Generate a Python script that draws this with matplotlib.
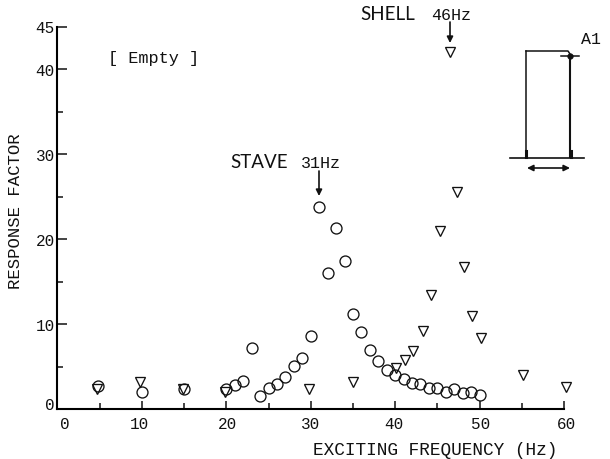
import matplotlib
matplotlib.use("Agg")
import matplotlib.pyplot as plt
from matplotlib.transforms import Affine2D, ScaledTranslation
from matplotlib.lines import Line2D

circle_x = [4.85, 10, 15, 20, 21, 22, 23, 24, 25, 26, 27, 28, 29, 30, 31, 32, 33, 34, 35, 36, 37,
            38, 39, 40, 41, 42, 43, 44, 45, 46, 47, 48, 49, 50]
circle_y = [2.7, 2.0, 2.35, 2.35, 2.8, 3.3, 7.15, 1.5, 2.45, 3.0, 3.8, 5.1, 6.0, 8.6, 23.8, 16.0,
            21.3, 17.4, 11.2, 9.05, 6.9, 5.65, 4.6, 4.0, 3.5, 3.05, 2.95, 2.45, 2.45, 2.05, 2.3,
            1.9, 2.0, 1.65]
tri_x = [4.7, 9.8, 14.9, 19.9, 29.8, 35, 40.1, 41.2, 42.1, 43.3, 44.3, 45.3, 46.5, 47.3, 48.2,
         49.1, 50.2, 55.1, 60.2]
tri_y = [2.4, 3.2, 2.35, 2.0, 2.3, 3.2, 4.8, 5.8, 6.8, 9.15, 13.4, 21.0, 42.0, 25.5, 16.7, 10.9,
         8.35, 4.0, 2.55]
x_major = [0, 10, 20, 30, 40, 50, 60]
x_minor = [5, 15, 25, 35, 45, 55]
y_major = [0, 10, 20, 30, 40, 45]
y_minor = [5, 15, 25, 35]

W, H = 610, 460
mono = "Liberation Mono"
fig = plt.figure(figsize=(W / 100, H / 100), dpi=100)
L, R, T, B = 57.5, 564, 27.5, 410
ax = fig.add_axes([L / W, 1 - B / H, (R - L) / W, (B - T) / H])
ax.set_xlim(0, 60)
ax.set_ylim(0, 45)
for s in ("top", "right"):
    ax.spines[s].set_visible(False)
ax.spines["left"].set_linewidth(1.5)
ax.spines["bottom"].set_linewidth(1.5)

ax.plot(circle_x, circle_y, ls="none", marker="o", ms=7.9, mfc="none", mec="#111111", mew=0.95, clip_on=False)
ax.plot(tri_x, tri_y, ls="none", marker="v", ms=7.9, mfc="none", mec="#111111", mew=0.95, clip_on=False)

ax.set_xticks(x_major)
ax.set_xticks(x_minor, minor=True)
ax.set_yticks(y_major)
ax.set_yticks(y_minor, minor=True)
ax.tick_params(axis="both", which="major", direction="in", length=6, width=1.1, color="#111111")
ax.tick_params(axis="both", which="minor", direction="in", length=4, width=1.1, color="#111111")
ax.tick_params(axis="y", which="major", length=7, pad=2)
ax.tick_params(axis="x", which="major", length=6, pad=5)
for lab in ax.get_xticklabels() + ax.get_yticklabels():
    lab.set_fontfamily(mono)
    lab.set_fontsize(11.5)
    lab.set_color("#111111")

def nudge(lab, dx, dy):
    lab.set_transform(lab.get_transform() + ScaledTranslation(dx / 100, dy / 100, fig.dpi_scale_trans))

for lab, dx in zip(ax.get_xticklabels(), [7, -2, 1, 0, -1, 1, 3]):
    nudge(lab, dx, 0)
nudge(ax.get_yticklabels()[0], 0, 6)

px = Affine2D().scale(1 / W, -1 / H).translate(0, 1) + fig.transFigure

def txt(x, y, s, size=12, family=mono, **kw):
    fig.text(x, y, s, transform=px, fontsize=size, family=family, color="#111111",
             ha="center", va="center", **kw)

txt(435.5, 451, "EXCITING FREQUENCY (Hz)", 12.8)
txt(16, 211, "RESPONSE FACTOR", 12.4, rotation=90)
txt(153.5, 58, "[ Empty ]", 12.2)
txt(387.5, 15, "SHELL", 13.5, family="Lato")
txt(259.5, 163, "STAVE", 13.5, family="Lato")
txt(451.5, 15, "46Hz", 12)
txt(320.5, 164, "31Hz", 12)
txt(591, 39, "A1", 12)

def seg(x, y, lw=1.1):
    fig.add_artist(Line2D(x, y, transform=px, color="#111111", lw=lw))

def arrow(p0, p1, style="-|>"):
    ax.annotate("", xy=p1, xytext=p0, xycoords=px, textcoords=px,
                arrowprops=dict(arrowstyle=style, color="#111111", lw=1.2, mutation_scale=9,
                                shrinkA=0, shrinkB=0))

arrow((450, 23), (450, 44))
arrow((319, 172), (319, 197))
arrow((527, 169), (570, 169), "<|-|>")

seg([526, 526], [52, 158], 1.1)
seg([526, 568, 570], [52, 52, 55], 1.1)
seg([570, 570], [56, 158], 1.5)
seg([561, 579], [56.5, 56.5], 1.1)
seg([510, 584], [159, 159], 1.2)
seg([526, 526], [152, 158], 2.2)
seg([570.5, 570.5], [152, 158], 2.2)
fig.add_artist(Line2D([570], [57], transform=px, marker="o", ms=3.5, color="#111111", ls="none"))

fig.savefig("out.png", dpi=100)
